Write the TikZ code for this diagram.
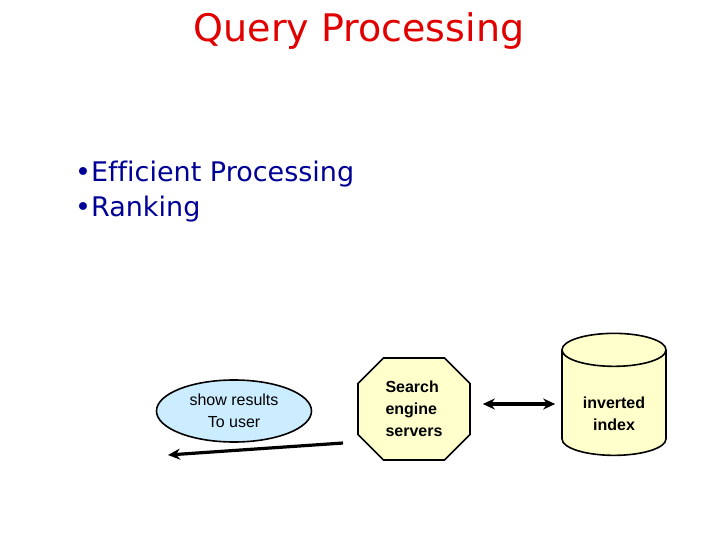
\documentclass[tikz,border=0pt]{standalone}
\usepackage{fontspec}
\setmainfont{Liberation Sans}
\newfontfamily\handfont[Ligatures=NoCommon]{DejaVu Sans}
\usetikzlibrary{shapes.geometric,shapes.misc,arrows.meta}
\definecolor{titlered}{RGB}{225,0,0}
\definecolor{pointblue}{RGB}{0,0,150}
\definecolor{paleblue}{RGB}{204,236,255}
\definecolor{paleyellow}{RGB}{255,255,204}
\tikzset{
  box/.style={draw,line width=1.6pt,font=\fontsize{16}{22}\selectfont,inner sep=0pt},
  link/.style={line width=3.2pt,-{Stealth[length=12pt,width=11pt]}},
}
\begin{document}
\begin{tikzpicture}[x=1pt,y=-1pt]
  \useasboundingbox (0,0) rectangle (720,540);
  \node[anchor=base,text=titlered,font=\handfont\fontsize{38}{44}\selectfont] (title) at (359,42) {Query Processing};
  \node[anchor=base west,align=left,inner sep=0pt,text=pointblue,font=\handfont\fontsize{27}{34}\selectfont] (pts) at (75,216)
    {•Efficient Processing\\•Ranking};
  % the three parts of the engine
  \node[box,ellipse,fill=paleblue,minimum width=155pt,minimum height=62pt,align=center] (show) at (234,411)
    {show results\\To user};
  \node[box,chamfered rectangle,chamfered rectangle xsep=22pt,fill=paleyellow,minimum width=112pt,minimum height=102pt,
    align=left,font=\bfseries\fontsize{16}{22}\selectfont] (srv) at (414,409) {Search\\engine\\servers};
  \node[box,cylinder,shape border rotate=90,aspect=0.53,fill=paleyellow,minimum width=104pt,minimum height=122pt,
    font=\bfseries\fontsize{16}{22}\selectfont] (idx) at (614,403)
    {\raisebox{-12pt}[15.4pt][28.6pt]{\begin{tabular}[t]{@{}c@{}}inverted\\index\end{tabular}}};
  \draw[link,{Stealth[length=12pt,width=11pt]}-{Stealth[length=12pt,width=11pt]}]
    ([xshift=12pt,yshift=5pt]srv.east) -- ([xshift=-6pt,yshift=5pt]srv.east -| idx.west);
  \coordinate (back0) at (343,443);
  \coordinate (back1) at (168,455);
  \draw[link] (back0) -- (back1);
\end{tikzpicture}
\end{document}
